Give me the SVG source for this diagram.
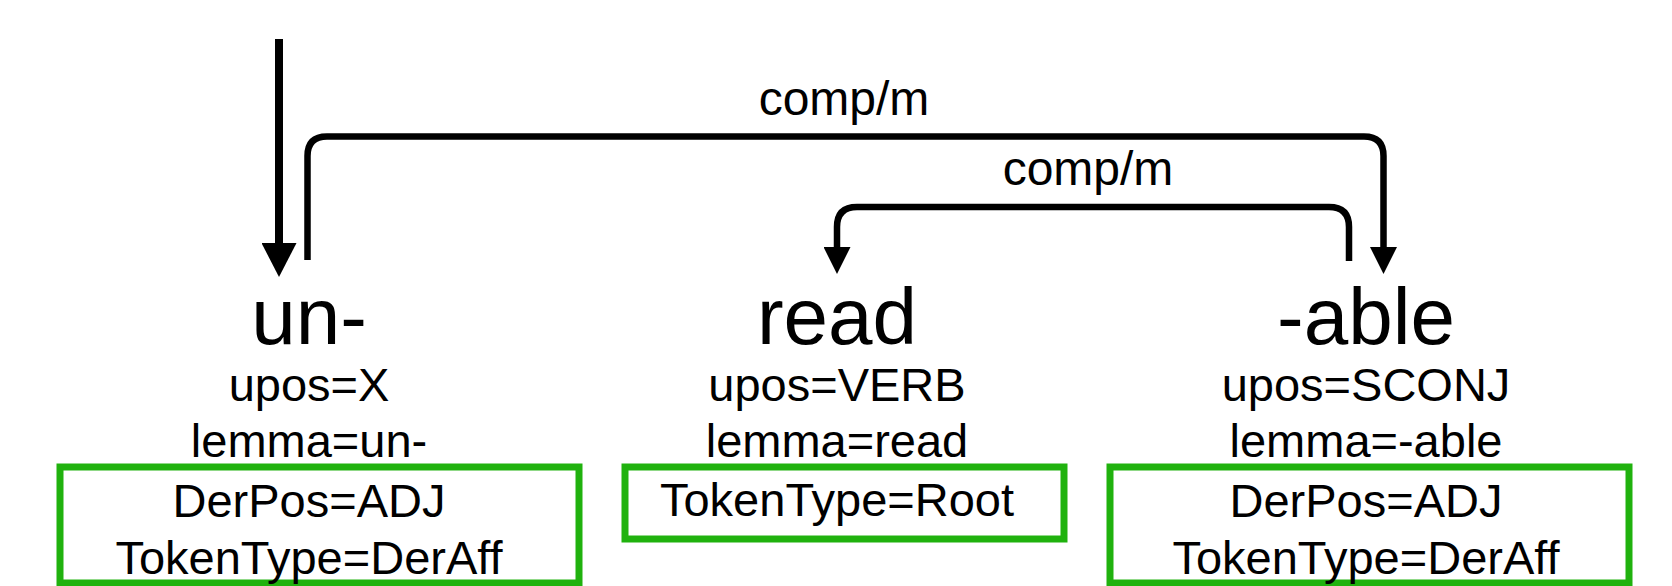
<svg xmlns="http://www.w3.org/2000/svg" width="1672" height="586" viewBox="0 0 1672 586">
  <style>
    text { font-family: "Liberation Sans", Arial, sans-serif; fill: #000; text-anchor: middle; }
    .word { font-size: 80px; }
    .attr { font-size: 47px; }
    .lbl { font-size: 48px; }
    .edge { fill: none; stroke: #000; stroke-width: 6.5; }
    .root { fill: none; stroke: #000; stroke-width: 8; }
    .feat { fill: none; stroke: #20b20e; stroke-width: 7; }
  </style>
  <defs>
    <marker id="arrow" viewBox="0 0 27 27" refX="0" refY="13.5" markerWidth="27" markerHeight="27" markerUnits="userSpaceOnUse" orient="auto">
      <path d="M0,0 L27,13.5 L0,27 z" fill="#000"/>
    </marker>
    <marker id="arrowRoot" viewBox="0 0 34 35" refX="0" refY="17.5" markerWidth="34" markerHeight="35" markerUnits="userSpaceOnUse" orient="auto">
      <path d="M0,0 L34,17.5 L0,35 z" fill="#000"/>
    </marker>
  </defs>

  <g id="connectors">
    <path id="root-edge" class="root" d="M279,39 V243" marker-end="url(#arrowRoot)"/>
    <path id="edge-able-un" class="edge" d="M307.5,260 V156 Q307.5,136.5 327,136.5 H1364 Q1383.5,136.5 1383.5,156 V247" marker-end="url(#arrow)"/>
    <text class="lbl" x="844" y="115">comp/m</text>
    <path id="edge-able-read" class="edge" d="M1349,261 V227 Q1349,207 1329,207 H857 Q837,207 837,227 V247" marker-end="url(#arrow)"/>
    <text class="lbl" x="1088" y="185">comp/m</text>
  </g>

  <g id="node-un">
    <text class="word" x="309" y="344">un-</text>
    <text class="attr" x="309" y="401">upos=X</text>
    <text class="attr" x="309" y="457">lemma=un-</text>
    <rect class="feat" x="60" y="467" width="519" height="116"/>
    <text class="attr" x="309" y="517">DerPos=ADJ</text>
    <text class="attr" x="309" y="574">TokenType=DerAff</text>
  </g>

  <g id="node-read">
    <text class="word" x="837" y="344">read</text>
    <text class="attr" x="837" y="401">upos=VERB</text>
    <text class="attr" x="837" y="457">lemma=read</text>
    <rect class="feat" x="625" y="467" width="439" height="72"/>
    <text class="attr" x="837" y="516">TokenType=Root</text>
  </g>

  <g id="node-able">
    <text class="word" x="1366" y="344">-able</text>
    <text class="attr" x="1366" y="401">upos=SCONJ</text>
    <text class="attr" x="1366" y="457">lemma=-able</text>
    <rect class="feat" x="1110" y="467" width="519" height="116"/>
    <text class="attr" x="1366" y="517">DerPos=ADJ</text>
    <text class="attr" x="1366" y="574">TokenType=DerAff</text>
  </g>
</svg>
